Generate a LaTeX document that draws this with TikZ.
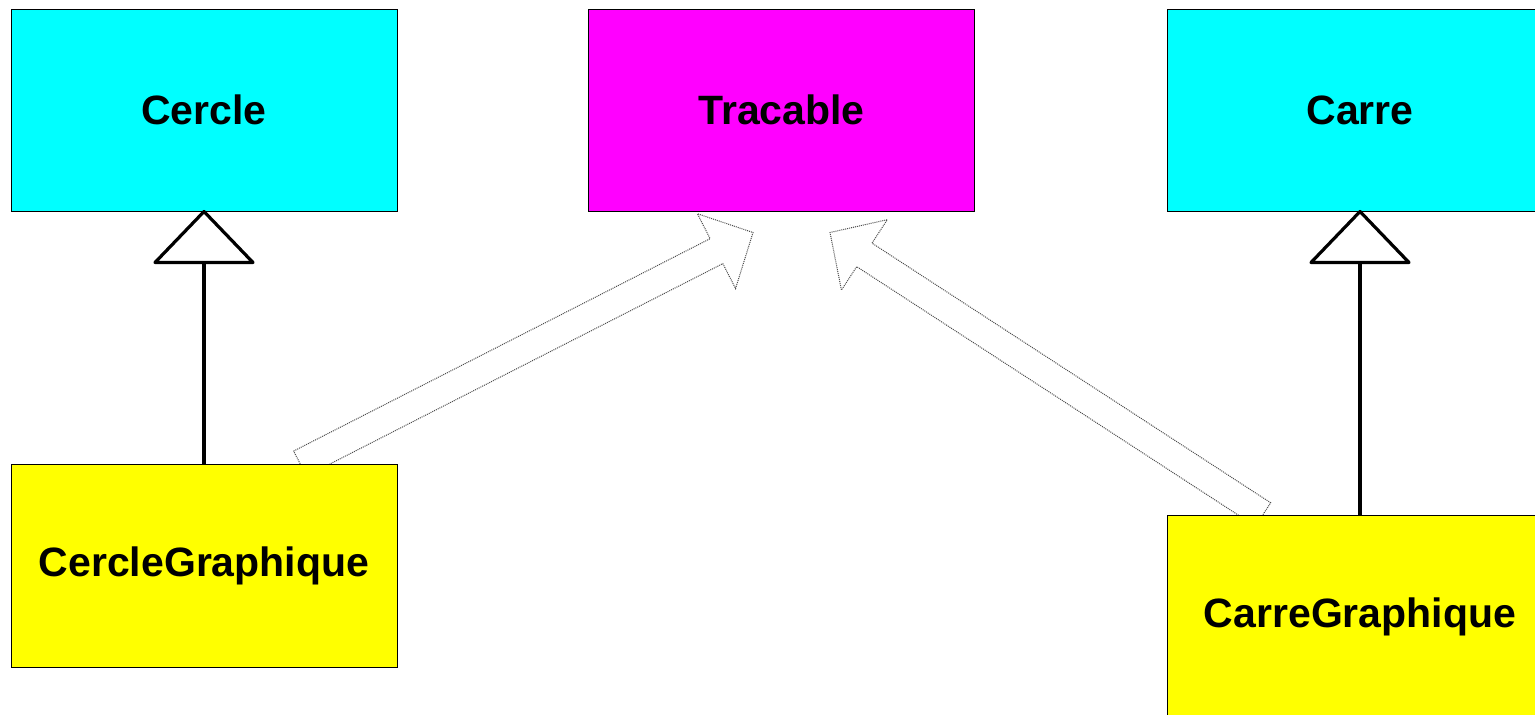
\documentclass[tikz,border=0pt]{standalone}
\usepackage{fontspec}
\setmainfont{Liberation Sans}
\usetikzlibrary{calc}

\definecolor{clscyan}{RGB}{0,255,255}
\definecolor{clsmagenta}{RGB}{255,0,255}
\definecolor{clsyellow}{RGB}{255,255,0}

\pgfdeclarelayer{behind}
\pgfsetlayers{behind,main}

% hollow block arrow from tail #1 to tip #2
\newcommand{\hollowarrow}[2]{%
  \coordinate (ha-b) at ($(#2)!20.5pt!(#1)$);
  \draw[realise]
    ($(#1)!7pt!90:(#2)$) -- ($(ha-b)!7pt!-90:(#1)$) -- ($(ha-b)!21pt!-90:(#1)$)
    -- (#2)
    -- ($(ha-b)!21pt!90:(#1)$) -- ($(ha-b)!7pt!90:(#1)$) -- ($(#1)!7pt!-90:(#2)$) -- cycle;
}

\begin{document}
\begin{tikzpicture}[x=0.5pt,y=-0.5pt,
  cls/.style={draw, line width=0.5pt, inner sep=0pt,
    minimum width=193pt, minimum height=101pt,
    font=\fontsize{20.5}{24}\selectfont\bfseries},
  inherit/.style={line width=1.6pt, line join=round},
  realise/.style={draw=black!70, fill=white, line width=0.5pt,
    dash pattern=on 0.5pt off 0.5pt}]

\useasboundingbox (0,0) rectangle (1535,714);
\clip (0,0) rectangle (1535,714);

% class boxes
\path (204,110) node[cls, fill=clscyan] (cercle) {Cercle};
\path (781.5,110) node[cls, fill=clsmagenta] (tracable) {Tracable};
\path (1360,110) node[cls, fill=clscyan] (carre) {Carre};
\path (204,565.5) node[cls, fill=clsyellow, minimum height=101.5pt] (cercleg) {CercleGraphique};
\path (1360,616.5) node[cls, fill=clsyellow, minimum height=101.5pt] (carreg) {CarreGraphique};

% realisation arrows towards the interface, tucked behind the boxes
\coordinate (a1t) at ($(cercleg.north)+(96,0)$);
\coordinate (a1h) at ($(tracable.south)+(-28.5,21)$);
\coordinate (a2t) at ($(carreg.north)+(-97,0)$);
\coordinate (a2h) at ($(tracable.south)+(48.5,21)$);
\begin{pgfonlayer}{behind}
  \hollowarrow{a1t}{a1h}
  \hollowarrow{a2t}{a2h}
\end{pgfonlayer}

% inheritance: open triangle heads
\coordinate (b1) at ($(cercle.south)+(0,51)$);
\coordinate (b2) at ($(carre.south)+(0,51)$);
\draw[inherit] (cercleg.north) -- (b1);
\draw[inherit] (carreg.north) -- (b2);
\draw[inherit, fill=white] (cercle.south) -- ($(b1)+(-49,0)$) -- ($(b1)+(49,0)$) -- cycle;
\draw[inherit, fill=white] (carre.south) -- ($(b2)+(-49,0)$) -- ($(b2)+(49,0)$) -- cycle;
\end{tikzpicture}
\end{document}
